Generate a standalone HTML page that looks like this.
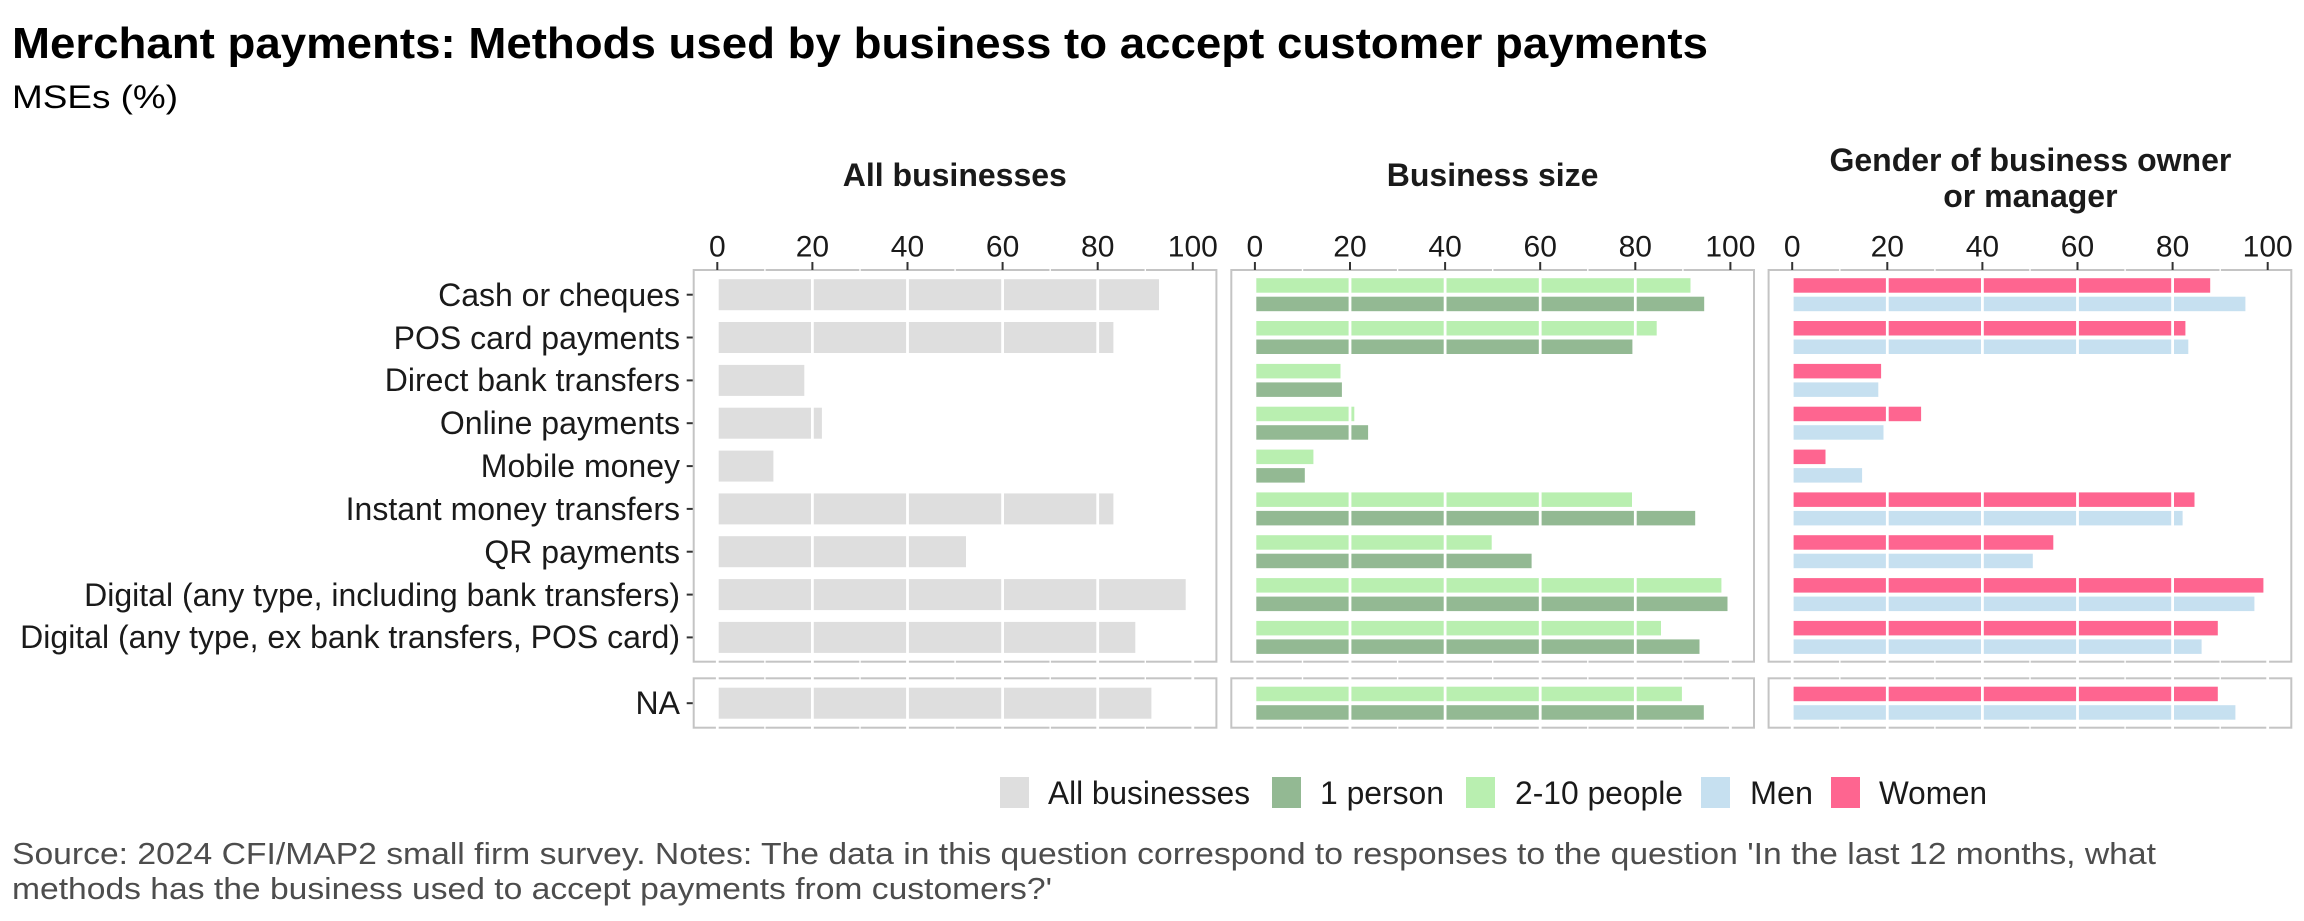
<!DOCTYPE html>
<html><head><meta charset="utf-8"><style>
html,body{margin:0;padding:0;background:#fff;}
svg{display:block;font-family:"Liberation Sans",Arial,sans-serif;}
</style></head><body>
<svg width="2304" height="921" viewBox="0 0 2304 921" xmlns="http://www.w3.org/2000/svg">
<rect width="2304" height="921" fill="#fff"/>
<text x="12" y="58" font-size="44" font-weight="bold" fill="#000" textLength="1696" lengthAdjust="spacingAndGlyphs">Merchant payments: Methods used by business to accept customer payments</text>
<text x="12" y="108" font-size="32" fill="#000" textLength="166" lengthAdjust="spacingAndGlyphs">MSEs (%)</text>

<g font-size="32" font-weight="bold" fill="#1a1a1a" text-anchor="middle">
<text x="954.8" y="186">All businesses</text>
<text x="1492.6" y="186">Business size</text>
<text x="2030.4" y="171">Gender of business owner</text>
<text x="2030.4" y="207">or manager</text>
</g>

<!-- y labels -->
<g font-size="32" fill="#1a1a1a" text-anchor="end">
<text x="680" y="306">Cash or cheques</text>
<text x="680" y="349">POS card payments</text>
<text x="680" y="391">Direct bank transfers</text>
<text x="680" y="434">Online payments</text>
<text x="680" y="477">Mobile money</text>
<text x="680" y="520">Instant money transfers</text>
<text x="680" y="563">QR payments</text>
<text x="680" y="606">Digital (any type, including bank transfers)</text>
<text x="680" y="648">Digital (any type, ex bank transfers, POS card)</text>
<text x="680" y="714">NA</text>
</g>
<g stroke="#333" stroke-width="2">
<line x1="686.7" x2="693" y1="294.7" y2="294.7"/><line x1="686.7" x2="693" y1="337.5" y2="337.5"/><line x1="686.7" x2="693" y1="380.4" y2="380.4"/><line x1="686.7" x2="693" y1="423.2" y2="423.2"/><line x1="686.7" x2="693" y1="466.1" y2="466.1"/><line x1="686.7" x2="693" y1="508.9" y2="508.9"/><line x1="686.7" x2="693" y1="551.7" y2="551.7"/><line x1="686.7" x2="693" y1="594.6" y2="594.6"/><line x1="686.7" x2="693" y1="637.4" y2="637.4"/><line x1="686.7" x2="693" y1="703.2" y2="703.2"/>
</g>

<!-- Panel 1 -->
<g transform="translate(717.3,0)">
<rect x="-23.6" y="270" width="522.7" height="391.7" fill="none" stroke="#c4c4c4" stroke-width="2"/>
<rect x="-23.6" y="678.3" width="522.7" height="49.4" fill="none" stroke="#c4c4c4" stroke-width="2"/>
<g stroke="#fff" stroke-width="1.4"><line x1="47.6" x2="47.6" y1="265" y2="735"/><line x1="142.7" x2="142.7" y1="265" y2="735"/><line x1="237.8" x2="237.8" y1="265" y2="735"/><line x1="332.9" x2="332.9" y1="265" y2="735"/><line x1="428" x2="428" y1="265" y2="735"/></g>
<g fill="#dedede">
<rect x="0" y="279.2" width="441.7" height="31"/><rect x="0" y="322" width="396.1" height="31"/><rect x="0" y="364.9" width="87" height="31"/><rect x="0" y="407.7" width="104.6" height="31"/><rect x="0" y="450.6" width="56.1" height="31"/><rect x="0" y="493.4" width="396.1" height="31"/><rect x="0" y="536.2" width="248.7" height="31"/><rect x="0" y="579.1" width="468.4" height="31"/><rect x="0" y="621.9" width="418" height="31"/><rect x="0" y="687.7" width="434.1" height="31"/>
</g>
<g stroke="#fff" stroke-width="2.8"><line x1="0" x2="0" y1="271" y2="735"/><line x1="95.1" x2="95.1" y1="271" y2="735"/><line x1="190.2" x2="190.2" y1="271" y2="735"/><line x1="285.3" x2="285.3" y1="271" y2="735"/><line x1="380.4" x2="380.4" y1="271" y2="735"/><line x1="475.5" x2="475.5" y1="271" y2="735"/></g>
<g stroke="#333" stroke-width="2"><line x1="0" x2="0" y1="262" y2="270"/><line x1="95.1" x2="95.1" y1="262" y2="270"/><line x1="190.2" x2="190.2" y1="262" y2="270"/><line x1="285.3" x2="285.3" y1="262" y2="270"/><line x1="380.4" x2="380.4" y1="262" y2="270"/><line x1="475.5" x2="475.5" y1="262" y2="270"/></g>
<g font-size="30" fill="#1a1a1a" text-anchor="middle"><text x="0" y="256.5">0</text><text x="95.1" y="256.5">20</text><text x="190.2" y="256.5">40</text><text x="285.3" y="256.5">60</text><text x="380.4" y="256.5">80</text><text x="475.5" y="256.5">100</text></g>
</g>

<!-- Panel 2 -->
<g transform="translate(1254.9,0)">
<rect x="-23.6" y="270" width="522.7" height="391.7" fill="none" stroke="#c4c4c4" stroke-width="2"/>
<rect x="-23.6" y="678.3" width="522.7" height="49.4" fill="none" stroke="#c4c4c4" stroke-width="2"/>
<g stroke="#fff" stroke-width="1.4"><line x1="47.6" x2="47.6" y1="265" y2="735"/><line x1="142.7" x2="142.7" y1="265" y2="735"/><line x1="237.8" x2="237.8" y1="265" y2="735"/><line x1="332.9" x2="332.9" y1="265" y2="735"/><line x1="428" x2="428" y1="265" y2="735"/></g>
<g fill="#b9efb0">
<rect x="0" y="278.2" width="435.6" height="14.5"/><rect x="0" y="321" width="401.8" height="14.5"/><rect x="0" y="363.9" width="85.6" height="14.5"/><rect x="0" y="406.7" width="99.4" height="14.5"/><rect x="0" y="449.6" width="58.5" height="14.5"/><rect x="0" y="492.4" width="377.1" height="14.5"/><rect x="0" y="535.2" width="236.8" height="14.5"/><rect x="0" y="578.1" width="466.5" height="14.5"/><rect x="0" y="620.9" width="406.1" height="14.5"/><rect x="0" y="686.7" width="427" height="14.5"/>
</g>
<g fill="#93b993">
<rect x="0" y="296.7" width="449.3" height="14.5"/><rect x="0" y="339.5" width="377.5" height="14.5"/><rect x="0" y="382.4" width="87" height="14.5"/><rect x="0" y="425.2" width="113.2" height="14.5"/><rect x="0" y="468.1" width="49.9" height="14.5"/><rect x="0" y="510.9" width="440.3" height="14.5"/><rect x="0" y="553.7" width="276.7" height="14.5"/><rect x="0" y="596.6" width="472.6" height="14.5"/><rect x="0" y="639.4" width="444.6" height="14.5"/><rect x="0" y="705.2" width="448.9" height="14.5"/>
</g>
<g stroke="#fff" stroke-width="2.8"><line x1="0" x2="0" y1="271" y2="735"/><line x1="95.1" x2="95.1" y1="271" y2="735"/><line x1="190.2" x2="190.2" y1="271" y2="735"/><line x1="285.3" x2="285.3" y1="271" y2="735"/><line x1="380.4" x2="380.4" y1="271" y2="735"/><line x1="475.5" x2="475.5" y1="271" y2="735"/></g>
<g stroke="#333" stroke-width="2"><line x1="0" x2="0" y1="262" y2="270"/><line x1="95.1" x2="95.1" y1="262" y2="270"/><line x1="190.2" x2="190.2" y1="262" y2="270"/><line x1="285.3" x2="285.3" y1="262" y2="270"/><line x1="380.4" x2="380.4" y1="262" y2="270"/><line x1="475.5" x2="475.5" y1="262" y2="270"/></g>
<g font-size="30" fill="#1a1a1a" text-anchor="middle"><text x="0" y="256.5">0</text><text x="95.1" y="256.5">20</text><text x="190.2" y="256.5">40</text><text x="285.3" y="256.5">60</text><text x="380.4" y="256.5">80</text><text x="475.5" y="256.5">100</text></g>
</g>

<!-- Panel 3 -->
<g transform="translate(1792.2,0)">
<rect x="-23.6" y="270" width="522.7" height="391.7" fill="none" stroke="#c4c4c4" stroke-width="2"/>
<rect x="-23.6" y="678.3" width="522.7" height="49.4" fill="none" stroke="#c4c4c4" stroke-width="2"/>
<g stroke="#fff" stroke-width="1.4"><line x1="47.6" x2="47.6" y1="265" y2="735"/><line x1="142.7" x2="142.7" y1="265" y2="735"/><line x1="237.8" x2="237.8" y1="265" y2="735"/><line x1="332.9" x2="332.9" y1="265" y2="735"/><line x1="428" x2="428" y1="265" y2="735"/></g>
<g fill="#fe6590">
<rect x="0" y="278.2" width="418" height="14.5"/><rect x="0" y="321" width="393.2" height="14.5"/><rect x="0" y="363.9" width="88.9" height="14.5"/><rect x="0" y="406.7" width="128.9" height="14.5"/><rect x="0" y="449.6" width="33.3" height="14.5"/><rect x="0" y="492.4" width="402.3" height="14.5"/><rect x="0" y="535.2" width="261.1" height="14.5"/><rect x="0" y="578.1" width="471.2" height="14.5"/><rect x="0" y="620.9" width="425.6" height="14.5"/><rect x="0" y="686.7" width="425.6" height="14.5"/>
</g>
<g fill="#c6e0f0">
<rect x="0" y="296.7" width="453.2" height="14.5"/><rect x="0" y="339.5" width="396.1" height="14.5"/><rect x="0" y="382.4" width="86.1" height="14.5"/><rect x="0" y="425.2" width="91.3" height="14.5"/><rect x="0" y="468.1" width="69.9" height="14.5"/><rect x="0" y="510.9" width="390.4" height="14.5"/><rect x="0" y="553.7" width="240.6" height="14.5"/><rect x="0" y="596.6" width="462.2" height="14.5"/><rect x="0" y="639.4" width="409.4" height="14.5"/><rect x="0" y="705.2" width="443.2" height="14.5"/>
</g>
<g stroke="#fff" stroke-width="2.8"><line x1="0" x2="0" y1="271" y2="735"/><line x1="95.1" x2="95.1" y1="271" y2="735"/><line x1="190.2" x2="190.2" y1="271" y2="735"/><line x1="285.3" x2="285.3" y1="271" y2="735"/><line x1="380.4" x2="380.4" y1="271" y2="735"/><line x1="475.5" x2="475.5" y1="271" y2="735"/></g>
<g stroke="#333" stroke-width="2"><line x1="0" x2="0" y1="262" y2="270"/><line x1="95.1" x2="95.1" y1="262" y2="270"/><line x1="190.2" x2="190.2" y1="262" y2="270"/><line x1="285.3" x2="285.3" y1="262" y2="270"/><line x1="380.4" x2="380.4" y1="262" y2="270"/><line x1="475.5" x2="475.5" y1="262" y2="270"/></g>
<g font-size="30" fill="#1a1a1a" text-anchor="middle"><text x="0" y="256.5">0</text><text x="95.1" y="256.5">20</text><text x="190.2" y="256.5">40</text><text x="285.3" y="256.5">60</text><text x="380.4" y="256.5">80</text><text x="475.5" y="256.5">100</text></g>
</g>

<!-- Legend -->
<rect x="1000" y="777" width="29" height="31" fill="#dedede"/>
<rect x="1272" y="777" width="29" height="31" fill="#93b993"/>
<rect x="1466" y="777" width="29" height="31" fill="#b9efb0"/>
<rect x="1701" y="777" width="29" height="31" fill="#c6e0f0"/>
<rect x="1831" y="777" width="29" height="31" fill="#fe6590"/>
<g font-size="32" fill="#1a1a1a">
<text x="1048" y="804" textLength="202" lengthAdjust="spacingAndGlyphs">All businesses</text>
<text x="1320" y="804" textLength="124" lengthAdjust="spacingAndGlyphs">1 person</text>
<text x="1515" y="804" textLength="168" lengthAdjust="spacingAndGlyphs">2-10 people</text>
<text x="1750" y="804" textLength="63" lengthAdjust="spacingAndGlyphs">Men</text>
<text x="1879" y="804" textLength="108" lengthAdjust="spacingAndGlyphs">Women</text>
</g>

<g font-size="31" fill="#4d4d4d">
<text x="12" y="864" textLength="2144" lengthAdjust="spacingAndGlyphs">Source: 2024 CFI/MAP2 small firm survey. Notes: The data in this question correspond to responses to the question 'In the last 12 months, what</text>
<text x="12" y="899" textLength="1040" lengthAdjust="spacingAndGlyphs">methods has the business used to accept payments from customers?'</text>
</g>
</svg>
</body></html>
